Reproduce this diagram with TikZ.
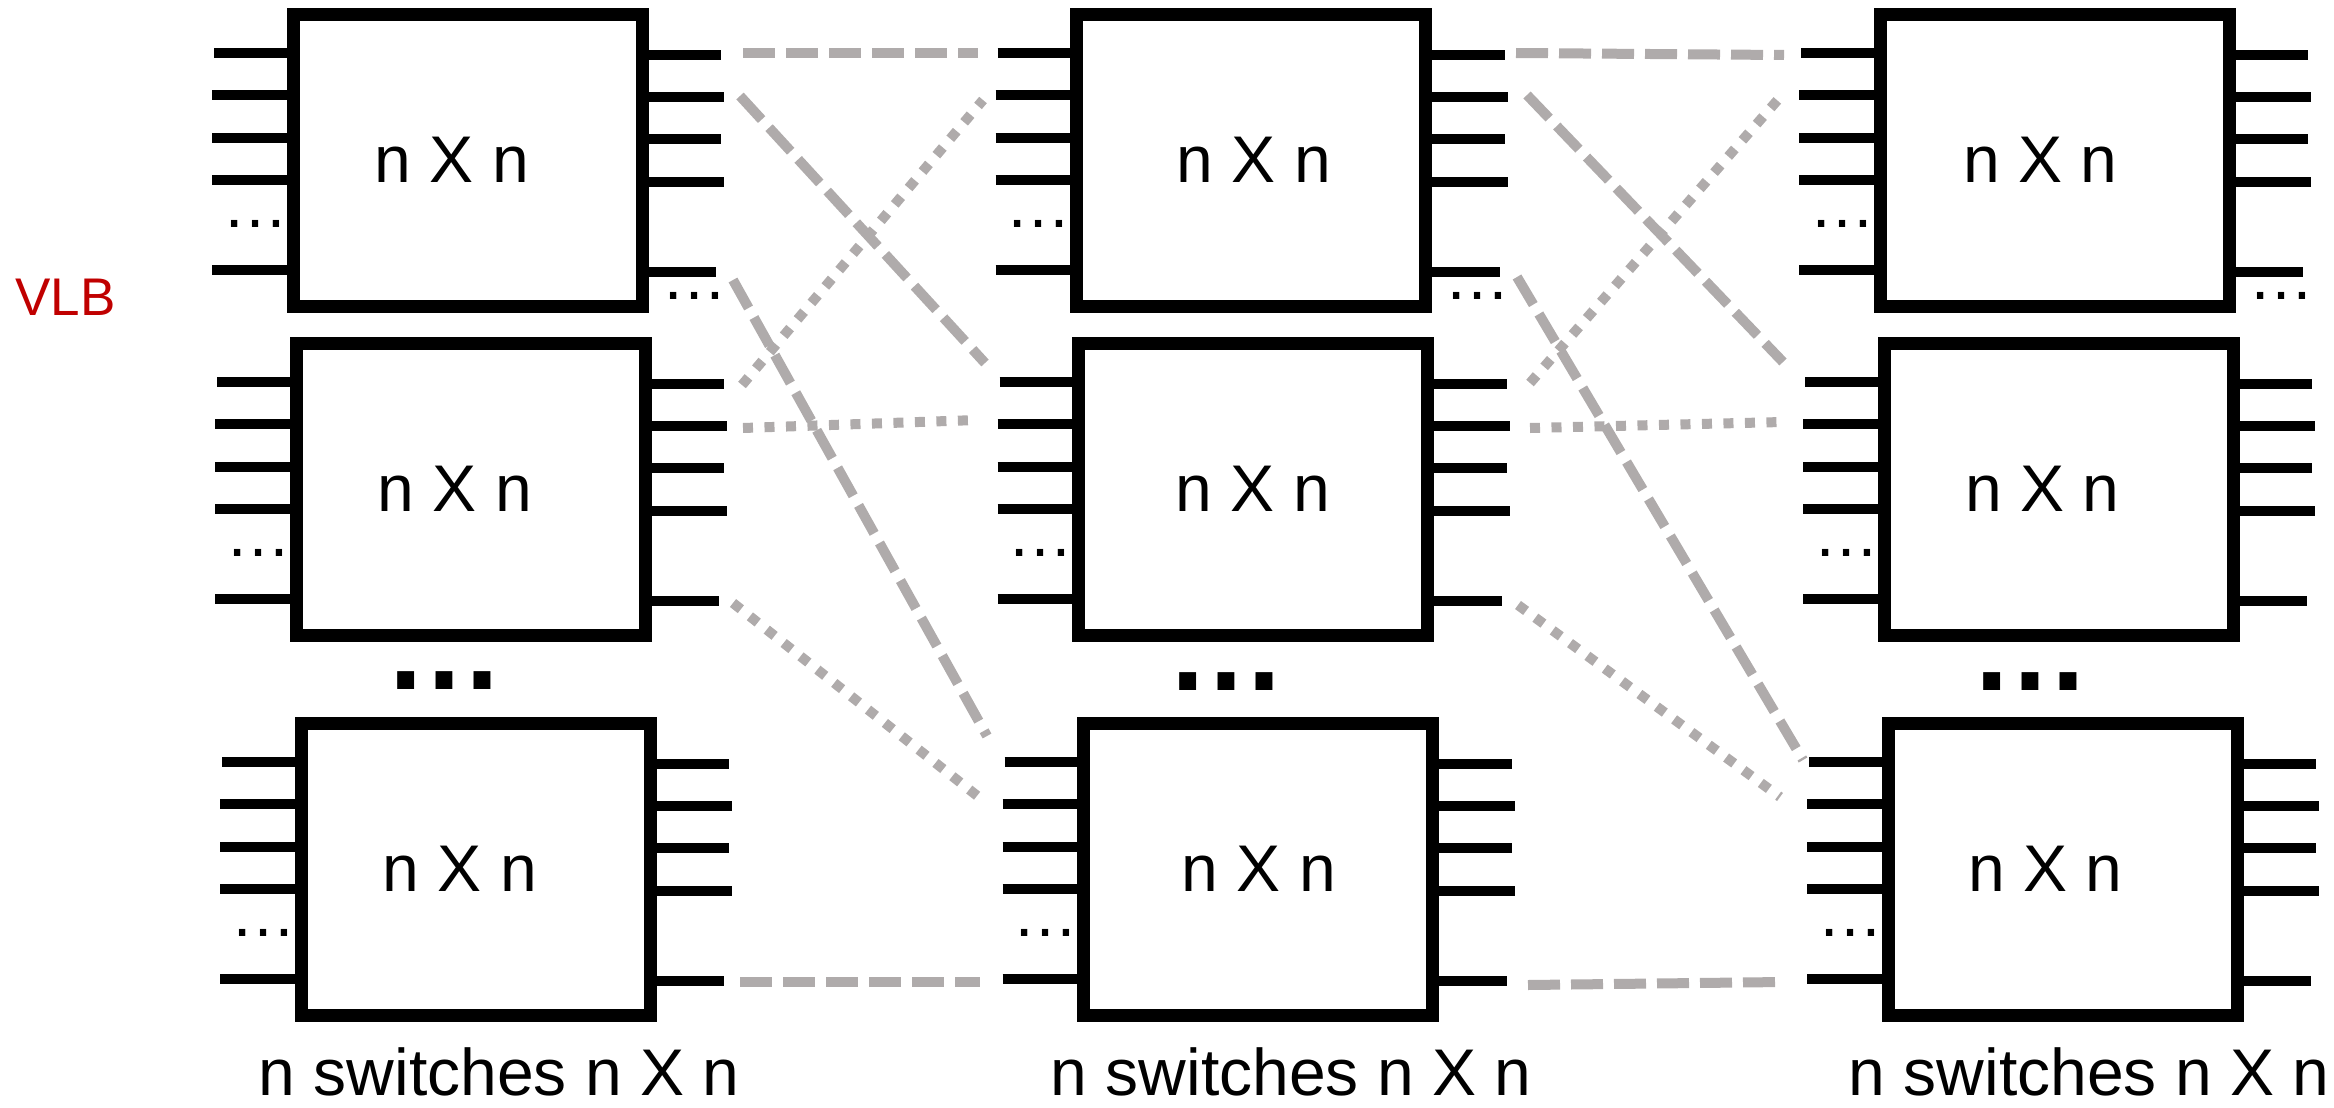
\documentclass[tikz,border=0pt]{standalone}
\usepackage{fontspec}
\setmainfont{Liberation Sans}
\definecolor{linkgray}{RGB}{175,171,171}
\definecolor{vlbred}{RGB}{192,0,0}
\begin{document}
\begin{tikzpicture}[x=1pt,y=-1pt,
  swbox/.style={draw=black, line width=13pt, rectangle, minimum width=349pt, minimum height=292pt, inner sep=0pt, outer sep=0pt},
  boxlbl/.style={inner sep=0pt, anchor=base, font=\fontsize{66}{78}\selectfont},
  smalldots/.style={inner sep=0pt, font=\fontsize{66}{78}\selectfont},
  bigdots/.style={inner sep=0pt, font=\fontsize{120}{140}\selectfont\bfseries},
  stubline/.style={draw=black, line width=10pt},
  conndash/.style={draw=linkgray, line width=10pt, dash pattern=on 32pt off 11pt},
  conndot/.style={draw=linkgray, line width=10pt, dash pattern=on 10pt off 11.5pt}]
\useasboundingbox (0,0) rectangle (2334,1108);

% switch boxes with their ports
\foreach \nm/\cx/\ty/\tdx/\rd in {b11/467.5/8/-15.5/1, b12/470.5/337/-15.5/0, b13/475.5/717/-15.5/0,
  b21/1251/8/3/1, b22/1253/337/0/0, b23/1258/717/1/0,
  b31/2054.5/8/-14/1, b32/2058.5/337/-16/0, b33/2062.5/717/-17/0}{
  \pgfmathsetmacro\bl{\cx-181.5}
  \pgfmathsetmacro\br{\cx+181.5}
  \pgfmathsetmacro\cy{\ty+152.5}
  \foreach \dy/\len in {45/72, 87/74, 129.5/74, 172/74, 262/74}
    \draw[stubline] (\bl-\len,\ty+\dy) -- (\bl+3,\ty+\dy);
  \foreach \dy/\len in {47/72, 89/75, 131/72, 174/75, 264/67}
    \draw[stubline] (\br-3,\ty+\dy) -- (\br+\len,\ty+\dy);
  \node[swbox] (\nm) at (\cx,\cy) {};
  \node[boxlbl] (\nm-t) at (\cx+\tdx,\ty+174) {n X n};
  \node[smalldots] (\nm-ld) at (\bl-31,\ty+216) {…};
  \ifnum\rd=1
    \node[smalldots] (\nm-rd) at (\br+45,\ty+288) {…};
  \fi
}

% vertical ellipses between rows
\node[bigdots] (e1) at (444,681) {…};
\node[bigdots] (e2) at (1226,682) {…};
\node[bigdots] (e3) at (2030,682) {…};

% column labels
\node[boxlbl] (l1) at (499,1095) {n switches n X n};
\node[boxlbl] (l2) at (1291,1095) {n switches n X n};
\node[boxlbl] (l3) at (2089,1095) {n switches n X n};

% VLB label
\node[anchor=base west, inner sep=0pt, text=vlbred, font=\fontsize{53}{64}\selectfont] (vlb) at (15,315) {VLB};

% connector end points, stage 1 -> stage 2
\coordinate (p1s) at (743,53);  \coordinate (p1e) at (978,53);
\coordinate (p2s) at (740,96);  \coordinate (p2e) at (985,363);
\coordinate (p3s) at (733,280); \coordinate (p3e) at (987,736);
\coordinate (p4s) at (742,385); \coordinate (p4e) at (983,100);
\coordinate (p5s) at (743,428); \coordinate (p5e) at (977,420);
\coordinate (p6s) at (733,603); \coordinate (p6e) at (985,802);
\coordinate (p7s) at (740,982); \coordinate (p7e) at (980,982);
% stage 2 -> stage 3
\coordinate (q1s) at (1516,53);  \coordinate (q1e) at (1784,55);
\coordinate (q2s) at (1527,95);  \coordinate (q2e) at (1783,362);
\coordinate (q3s) at (1517,277); \coordinate (q3e) at (1803,760);
\coordinate (q4s) at (1530,383); \coordinate (q4e) at (1782,95);
\coordinate (q5s) at (1530,428); \coordinate (q5e) at (1783,422);
\coordinate (q6s) at (1518,605); \coordinate (q6e) at (1780,797);
\coordinate (q7s) at (1528,985); \coordinate (q7e) at (1783,982);

\draw[conndash] (p1s) -- (p1e);
\draw[conndash] (p2s) -- (p2e);
\draw[conndash] (p3s) -- (p3e);
\draw[conndot]  (p4s) -- (p4e);
\draw[conndot]  (p5s) -- (p5e);
\draw[conndot]  (p6s) -- (p6e);
\draw[conndash] (p7s) -- (p7e);

\draw[conndash] (q1s) -- (q1e);
\draw[conndash] (q2s) -- (q2e);
\draw[conndash] (q3s) -- (q3e);
\draw[conndot]  (q4s) -- (q4e);
\draw[conndot]  (q5s) -- (q5e);
\draw[conndot]  (q6s) -- (q6e);
\draw[conndash] (q7s) -- (q7e);
\end{tikzpicture}
\end{document}
